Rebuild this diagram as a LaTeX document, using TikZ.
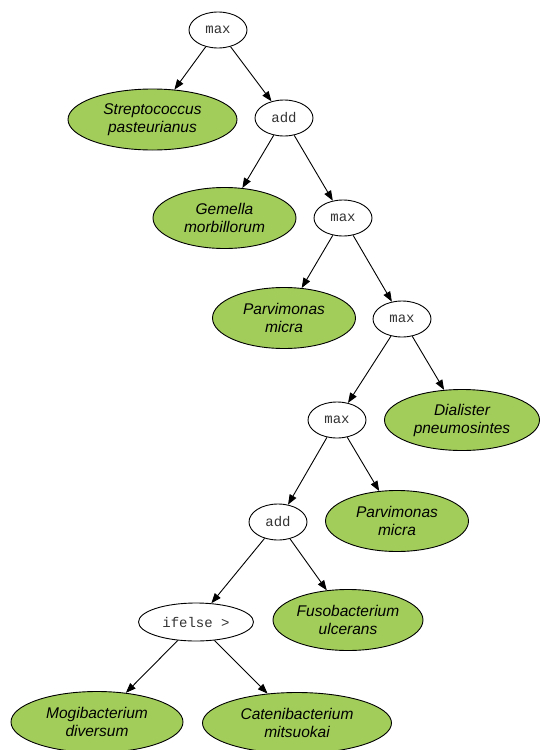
\documentclass[tikz,border=0pt]{standalone}
\usepackage{fontspec}
\setmainfont{Liberation Sans}
\setmonofont{Liberation Mono}
\usetikzlibrary{shapes.geometric,arrows.meta}
\definecolor{leafgreen}{RGB}{162,205,90}
\begin{document}
\begin{tikzpicture}[x=1pt,y=-1pt,
  op/.style={ellipse,draw,line width=0.9pt,minimum width=58pt,minimum height=36pt,inner sep=0pt,text=black!80,font=\fontsize{14}{16}\selectfont\ttfamily},
  leaf/.style={ellipse,draw,fill=leafgreen,line width=0.9pt,minimum height=61pt,inner sep=0pt,align=center,font=\fontsize{15.5}{18}\selectfont\itshape},
  edge/.style={-{Triangle[length=10pt,width=7.5pt]},line width=0.9pt}]
\useasboundingbox (0,0) rectangle (539,750);
\node[op] (m1) at (218,30) {max};
\node[leaf,minimum width=169pt] (s1) at (152.5,119.5) {Streptococcus\\pasteurianus};
\node[op] (a1) at (284,118) {add};
\node[leaf,minimum width=143pt] (g1) at (224.5,218) {Gemella\\morbillorum};
\node[op] (m2) at (343,218) {max};
\node[leaf,minimum width=143pt] (p1) at (284,318) {Parvimonas\\micra};
\node[op] (m3) at (402,319) {max};
\node[op] (m4) at (337,420) {max};
\node[leaf,minimum width=155pt] (d1) at (462,420) {Dialister\\pneumosintes};
\node[op] (a2) at (278,522) {add};
\node[leaf,minimum width=143pt] (p2) at (397,521) {Parvimonas\\micra};
\node[op,minimum width=115pt,minimum height=38pt] (i1) at (196,622) {ifelse >};
\node[leaf,minimum width=150pt] (f1) at (348,620) {Fusobacterium\\ulcerans};
\node[leaf,minimum width=172pt] (mo) at (97,722) {Mogibacterium\\diversum};
\node[leaf,minimum width=189pt] (c1) at (297,723) {Catenibacterium\\mitsuokai};
\draw[edge] (m1) -- (s1);
\draw[edge] (m1) -- (a1);
\draw[edge] (a1) -- (g1);
\draw[edge] (a1) -- (m2);
\draw[edge] (m2) -- (p1);
\draw[edge] (m2) -- (m3);
\draw[edge] (m3) -- (m4);
\draw[edge] (m3) -- (d1);
\draw[edge] (m4) -- (a2);
\draw[edge] (m4) -- (p2);
\draw[edge] (a2) -- (i1);
\draw[edge] (a2) -- (f1);
\draw[edge] (i1) -- (mo);
\draw[edge] (i1) -- (c1);
\end{tikzpicture}
\end{document}
